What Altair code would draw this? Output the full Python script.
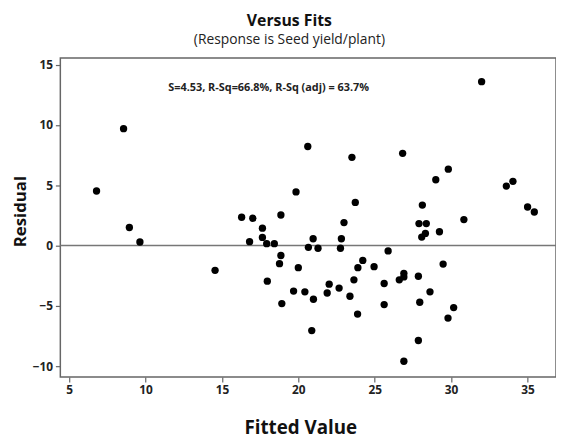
import altair as alt
import pandas as pd

fitted = [6.79, 8.56, 8.94, 9.63, 14.55, 16.29, 17.02, 16.81, 17.65, 17.65,
          17.93, 18.43, 18.86, 18.86, 18.77, 17.97, 18.92, 19.85, 20.00, 19.69,
          20.43, 20.62, 20.97, 20.66, 21.29, 20.99, 20.88, 22.02, 21.89, 22.67,
          23.38, 22.99, 22.82, 22.76, 23.51, 23.73, 23.90, 23.64, 23.88, 24.22,
          32.00, 26.83, 29.82, 29.00, 33.62, 34.05, 28.12, 35.01, 35.45, 30.84,
          27.90, 28.38, 29.24, 28.32, 28.08, 25.88, 24.96, 25.62, 26.61, 26.91,
          26.91, 27.86, 29.48, 28.62, 25.62, 27.95, 30.17, 29.80, 27.86, 26.91]
residual = [4.53, 9.70, 1.50, 0.30, -2.05, 2.35, 2.27, 0.33, 1.45, 0.68,
            0.16, 0.16, 2.54, -0.82, -1.50, -2.95, -4.81, 4.45, -1.83, -3.77,
            -3.83, 8.22, 0.57, -0.14, -0.22, -4.45, -7.05, -3.20, -3.93, -3.52,
            -4.20, 1.91, 0.57, -0.22, 7.32, 3.58, -1.83, -2.84, -5.68, -1.23,
            13.60, 7.65, 6.34, 5.46, 4.94, 5.33, 3.36, 3.20, 2.79, 2.16,
            1.83, 1.83, 1.15, 1.01, 0.71, -0.44, -1.75, -3.14, -2.84, -2.30,
            -2.60, -2.54, -1.53, -3.83, -4.89, -4.70, -5.14, -6.01, -7.87, -9.59]

x_ticks = [5, 10, 15, 20, 25, 30, 35]
y_ticks = [-10, -5, 0, 5, 10, 15]
stats_text = ["S=4.53, R-Sq=66.8%, R-Sq (adj) = 63.7%"]

df = pd.DataFrame({"fit": fitted, "res": residual})
note_df = pd.DataFrame({"t": stats_text})

FONT = "Open Sans"

xscale = alt.Scale(domain=[4.42, 36.87], nice=False, zero=False)
yscale = alt.Scale(domain=[-10.9, 15.55], nice=False, zero=False)

points = alt.Chart(df).mark_circle(size=55, color="black", opacity=1).encode(
    x=alt.X("fit:Q", scale=xscale,
            axis=alt.Axis(values=x_ticks, title="Fitted Value", titleFontSize=19,
                          titlePadding=23, titleX=243)),
    y=alt.Y("res:Q", scale=yscale,
            axis=alt.Axis(values=y_ticks, title="Residual", titleFontSize=17,
                          titlePadding=3, titleY=155)),
)

zero = alt.Chart(note_df).mark_rule(color="#777", strokeWidth=1.5).encode(
    y=alt.datum(0)
)

note = alt.Chart(note_df).mark_text(
    font=FONT, fontSize=11, fontWeight="bold", color="#222"
).encode(text="t:N", x=alt.value(211), y=alt.value(30))

chart = alt.layer(zero, points, note).properties(
    width=502, height=323,
    autosize=alt.AutoSizeParams(type="none"),
    padding={"left": 53, "top": 48, "right": 0, "bottom": 60},
    title=alt.TitleParams(
        "Versus Fits",
        subtitle="(Response is Seed yield/plant)",
        font=FONT, fontSize=16, fontWeight="bold", color="#111",
        subtitleFont=FONT, subtitleFontSize=14, subtitleColor="#222",
        anchor="middle", dx=-19, offset=11, subtitlePadding=5,
    ),
).configure_view(
    stroke="#666", strokeWidth=1.5
).configure_axis(
    grid=False, domain=False, tickColor="#666", tickSize=5, tickWidth=1.2,
    labelFont=FONT, labelFontSize=12, labelFontWeight="bold", labelColor="#222",
    titleFont=FONT, titleFontWeight="bold", titleColor="#111", labelPadding=3,
)

chart.save("out.html", embed_options={"renderer": "svg", "actions": False})
